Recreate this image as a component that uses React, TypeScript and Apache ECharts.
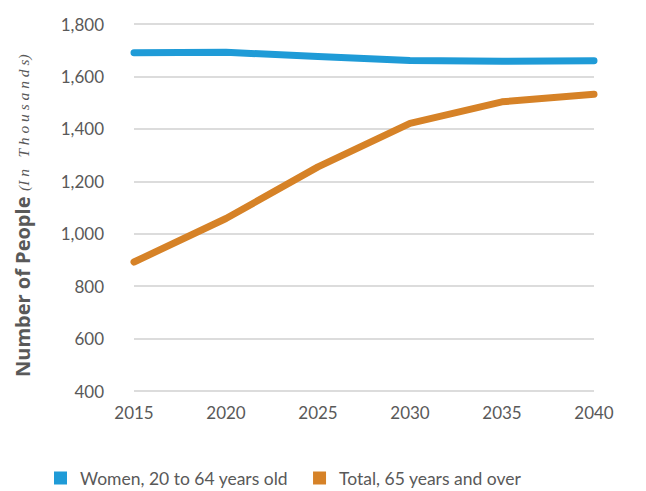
import React, { useEffect, useRef } from "react";
import * as echarts from "echarts";

const years = ["2015", "2020", "2025", "2030", "2035", "2040"];
const women20to64 = [1690, 1692, 1676, 1661, 1658, 1660];
const total65plus = [892, 1058, 1255, 1421, 1503, 1532];
const seriesNames = ["Women, 20 to 64 years old", "Total, 65 years and over"];
const colors = ["#1F9BD7", "#D68227"];
const titleMain = "Number of People";
const titleSub = "(I n   T h o u s a n d s)";

export default function App() {
  const ref = useRef<HTMLDivElement>(null);
  useEffect(() => {
    const chart = echarts.init(ref.current!, null, { renderer: "svg" });
    const font = "Lato, 'Open Sans', sans-serif";
    chart.setOption({
      animation: false,
      textStyle: { fontFamily: font },
      grid: { left: 134, right: 52, top: 24, bottom: 100 },
      legend: {
        bottom: -1,
        left: 49,
        icon: "rect",
        itemWidth: 13,
        itemHeight: 13,
        itemGap: 25,
        textStyle: { fontSize: 17.5, color: "#595959", fontFamily: font, padding: [0, 0, 0, 8] },
        data: seriesNames,
      },
      graphic: [
        {
          type: "group",
          x: 22,
          y: 377,
          rotation: Math.PI / 2,
          children: [
            {
              type: "text",
              x: 0,
              y: 0,
              style: {
                text: titleMain,
                fontSize: 20,
                fontWeight: "bold",
                fontFamily: "Open Sans",
                fill: "#595959",
                textAlign: "left",
                textVerticalAlign: "middle",
              },
            },
            {
              type: "text",
              x: 186,
              y: 1,
              style: {
                text: titleSub,
                fontSize: 15.5,
                fontStyle: "italic",
                fontFamily: "Liberation Serif",
                fill: "#595959",
                textAlign: "left",
                textVerticalAlign: "middle",
              },
            },
          ],
        },
      ],
      xAxis: {
        type: "category",
        data: years,
        boundaryGap: false,
        axisLine: { show: false },
        axisTick: { show: false },
        axisLabel: { fontSize: 17, color: "#595959", margin: 13 },
      },
      yAxis: {
        type: "value",
        min: 400,
        max: 1800,
        interval: 200,
        axisLabel: {
          fontSize: 17,
          color: "#595959",
          margin: 30,
          formatter: (v: number) => v.toLocaleString("en-US"),
        },
        splitLine: { lineStyle: { color: "#D0D0D0", width: 1.5 } },
      },
      series: [0, 1].map((i) => ({
        name: seriesNames[i],
        type: "line",
        data: i === 0 ? women20to64 : total65plus,
        symbol: "none",
        color: colors[i],
        lineStyle: { width: 7, color: colors[i], cap: "round", join: "round" },
      })),
    });
    return () => chart.dispose();
  }, []);
  return <div ref={ref} style={{ width: 646, height: 491, position: "absolute", left: 0, top: 0 }} />;
}
